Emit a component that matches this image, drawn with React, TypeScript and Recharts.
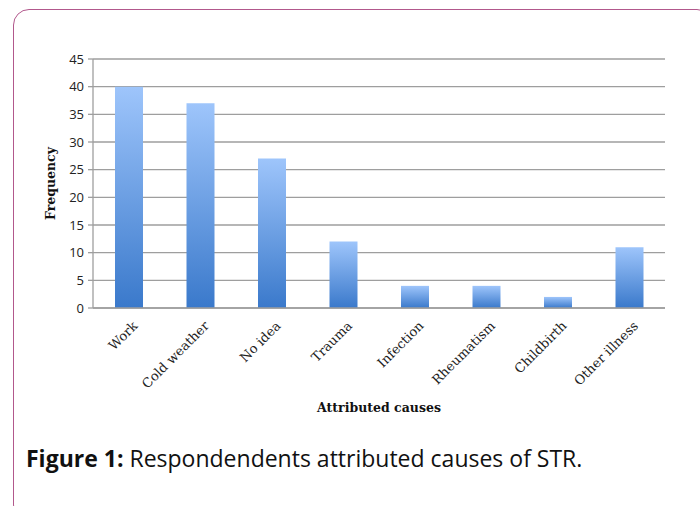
import { BarChart, Bar, XAxis, YAxis, CartesianGrid, Label } from 'recharts';

const causes = ['Work', 'Cold weather', 'No idea', 'Trauma', 'Infection', 'Rheumatism', 'Childbirth', 'Other illness'];
const frequency = [40, 37, 27, 12, 4, 4, 2, 11];
const yTicks = [0, 5, 10, 15, 20, 25, 30, 35, 40, 45];

const data = causes.map((name, i) => ({ name, value: frequency[i] }));

const serif = '"DejaVu Serif", serif';
const sans = '"Open Sans", sans-serif';

function CauseTick(props: any) {
  const { x, y, payload } = props;
  return (
    <g transform={`translate(${x + 4},${y + 5})`}>
      <text
        x={0}
        y={0}
        dy={8}
        textAnchor="end"
        transform="rotate(-45)"
        fill="#222"
        fontSize={13}
        fontFamily={serif}
      >
        {payload.value}
      </text>
    </g>
  );
}

export default function App() {
  return (
    <div style={{ position: 'fixed', left: 0, top: 0, width: 700, height: 506, overflow: 'hidden', background: '#fff' }}>
      <div
        style={{
          position: 'absolute',
          left: 13,
          top: 9,
          width: 700,
          height: 512,
          border: '1.5px solid #b2588c',
          borderRadius: 16,
          boxSizing: 'border-box',
        }}
      />
      <div style={{ position: 'absolute', left: 0, top: 0 }}>
        <BarChart
          width={700}
          height={506}
          data={data}
          margin={{ top: 59, right: 35, bottom: 118, left: 43 }}
        >
          <defs>
            <linearGradient id="barFill" x1="0" y1="0" x2="0" y2="1">
              <stop offset="0%" stopColor="#9ec5fb" />
              <stop offset="100%" stopColor="#3a79cb" />
            </linearGradient>
          </defs>
          <CartesianGrid vertical={false} stroke="#9e9e9e" strokeWidth={1.3} />
          <XAxis
            dataKey="name"
            height={80}
            interval={0}
            tickLine={false}
            axisLine={{ stroke: '#9e9e9e', strokeWidth: 1.3 }}
            tick={<CauseTick />}
          >
            <Label
              value="Attributed causes"
              position="insideBottom"
              offset={-24}
              fill="#111"
              fontSize={12.5}
              fontWeight="bold"
              fontFamily={serif}
            />
          </XAxis>
          <YAxis
            width={50}
            domain={[0, 45]}
            ticks={yTicks}
            interval={0}
            tickSize={5}
            tickMargin={4}
            tickLine={{ stroke: '#9e9e9e', strokeWidth: 1.3 }}
            axisLine={{ stroke: '#9e9e9e', strokeWidth: 1.3 }}
            tick={{ fill: '#222', fontSize: 13, fontFamily: sans }}
          >
            <Label
              value="Frequency"
              angle={-90}
              position="insideLeft"
              offset={8}
              style={{ textAnchor: 'middle' }}
              fill="#111"
              fontSize={12.5}
              fontWeight="bold"
              fontFamily={serif}
            />
          </YAxis>
          <Bar dataKey="value" fill="url(#barFill)" barSize={28} isAnimationActive={false} />
        </BarChart>
      </div>
      <div
        style={{
          position: 'absolute',
          left: 26,
          top: 442,
          fontFamily: sans,
          fontSize: 23,
          color: '#111',
          whiteSpace: 'nowrap',
        }}
      >
        <b>Figure 1:</b> Respondendents attributed causes of STR.
      </div>
    </div>
  );
}
